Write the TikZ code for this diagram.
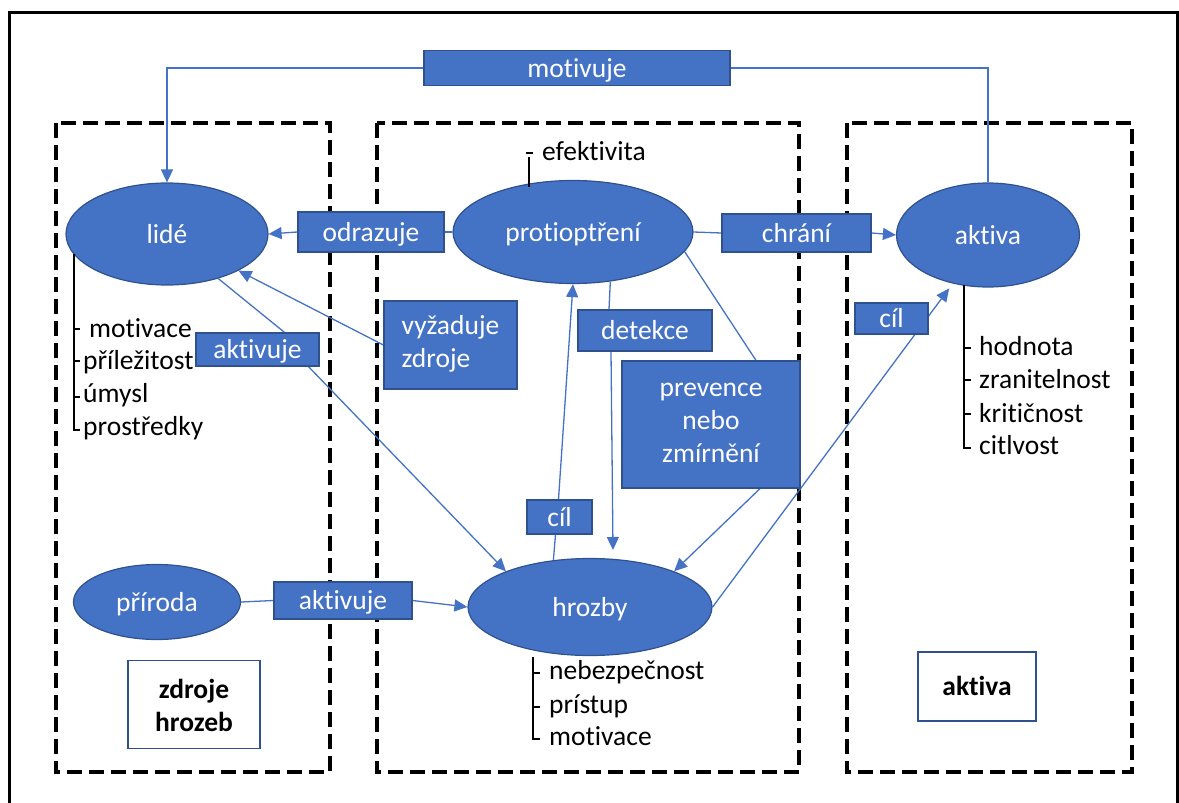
\documentclass[tikz,border=0pt]{standalone}
\usepackage{fontspec}
\setmainfont{Carlito}[Ligatures={NoCommon}]
\usetikzlibrary{arrows.meta,shapes.geometric}
\definecolor{ofblue}{HTML}{4472C4}
\definecolor{ofedge}{HTML}{2F528F}
\newcommand\lblfont{\fontsize{27.5}{33}\selectfont}
\pgfdeclarelayer{bg}
\pgfsetlayers{bg,main}
\tikzset{
  conn/.style={draw=ofblue, line width=1.3pt},
  arr/.style={conn, -{Triangle[length=13pt,width=12pt]}},
  bluebox/.style={rectangle, fill=ofblue, draw=ofedge, line width=1.2pt, text=white,
    font=\lblfont, inner sep=0pt, align=center, text height=20pt, text depth=2pt},
  blueoval/.style={ellipse, fill=ofblue, draw=ofedge, line width=1.2pt, text=white,
    font=\lblfont, inner sep=0pt, text height=20pt, text depth=2pt},
  titlebox/.style={rectangle, fill=white, draw=ofedge, line width=1.2pt, text=black,
    font=\lblfont\bfseries, inner sep=0pt, align=center, text height=20pt, text depth=2pt},
  zone/.style={draw=black, line width=4pt, dash pattern=on 15pt off 7pt},
  bracket/.style={draw=black, line width=1.3pt},
  item/.style={anchor=base west, font=\lblfont, inner sep=0pt},
}
\begin{document}
\begin{tikzpicture}[x=1pt, y=-1pt]
\useasboundingbox (0,0) rectangle (1179,803);

% outer frame (its bottom edge lies below the page)
\draw[line width=3pt] (9,810) -- (9,12) -- (1177,12) -- (1177,810);

% ellipses
\node[blueoval, minimum width=202pt, minimum height=102pt] (lide)    at (167,234) {lidé};
\node[blueoval, minimum width=240pt, minimum height=103pt] (protio)  at (573,232) {protioptření};
\node[blueoval, minimum width=183pt, minimum height=104pt] (aktiva)  at (988,235) {aktiva};
\node[blueoval, minimum width=167pt, minimum height=75pt]  (priroda) at (157,602) {příroda};
\node[blueoval, minimum width=244pt, minimum height=97pt]  (hrozby)  at (590,607) {hrozby};

% relation labels (multi-line ones: text height spans all lines)
\node[bluebox, minimum width=306pt, minimum height=35pt] (motivuje) at (577,68) {motivuje};
\node[bluebox, minimum width=146pt, minimum height=40pt] (odrazuje) at (371,232) {odrazuje};
\node[bluebox, minimum width=149pt, minimum height=38pt] (chrani)   at (796.5,233) {chrání};
\node[bluebox, minimum width=133pt, minimum height=88pt, align=left, text height=46pt] (vyzaduje) at (450.5,345) {vyžaduje\\zdroje};
\node[bluebox, minimum width=123pt, minimum height=33pt] (aktivA)   at (257.5,349.5) {aktivuje};
\node[bluebox, minimum width=134pt, minimum height=41pt] (detekce)  at (645,330.5) {detekce};
\node[bluebox, minimum width=178pt, minimum height=127pt, text height=77pt] (prevence) at (711,424.5) {prevence\\nebo\\zmírnění};
\node[bluebox, minimum width=65pt, minimum height=34pt]  (cilM)     at (559.5,517) {cíl};
\node[bluebox, minimum width=73pt, minimum height=31pt]  (cilR)     at (891.5,318.5) {cíl};
\node[bluebox, minimum width=138pt, minimum height=37pt] (aktivB)   at (343,600.5) {aktivuje};

% zone titles
\node[titlebox, minimum width=132pt, minimum height=88pt, text height=55pt] (tzdroje) at (194,704.5) {zdroje\\hrozeb};
\node[titlebox, minimum width=118pt, minimum height=69pt] (taktiva) at (977,686.5) {aktiva};

% attribute lists
\node[item] (m1) at (89,337) {motivace};
\node[item] (m2) at (83,369) {příležitost};
\node[item] (m3) at (83,402) {úmysl};
\node[item] (m4) at (83,435) {prostředky};
\draw[bracket] (74,254) -- (74,430) -- (80,430);
\draw[bracket] (74,329) -- (80,329) (74,361) -- (80,361) (74,397) -- (80,397);

\node[item] (e1) at (542,160) {efektivita};
\draw[bracket] (526,153) -- (533,153) (529,157) -- (529,187);

\node[item] (a1) at (979,355) {hodnota};
\node[item] (a2) at (979,388) {zranitelnost};
\node[item] (a3) at (979,422) {kritičnost};
\node[item] (a4) at (979,454) {citlvost};
\draw[bracket] (964,285) -- (964,448) -- (971,448);
\draw[bracket] (964,348) -- (971,348) (964,380) -- (971,380) (964,414) -- (971,414);

\node[item] (h1) at (549,679) {nebezpečnost};
\node[item] (h2) at (549,713) {prístup};
\node[item] (h3) at (549,745) {motivace};
\draw[bracket] (533,657) -- (533,739) -- (540,739);
\draw[bracket] (533,673) -- (540,673) (533,707) -- (540,707);

\coordinate (dtip) at (613,550);

\begin{pgfonlayer}{bg}
  % zones
  \draw[zone] (56,123) rectangle (330,772);
  \draw[zone] (377,123) rectangle (799,772);
  \draw[zone] (847,123) rectangle (1132,772);

  % connectors
  \draw[conn] (aktiva.north) |- (motivuje.east);
  \draw[arr]  (motivuje.west) -| (lide.north);

  \draw[conn] (protio.west) -- (odrazuje.east);
  \draw[arr]  (odrazuje.west) -- (lide.east);

  \draw[conn] (protio.east) -- (chrani.west);
  \draw[arr]  (chrani.east) -- (aktiva.west);

  \draw[arr]  (vyzaduje.west) -- (lide);

  \draw[conn] (lide.-41) -- ([xshift=27pt]aktivA.north);
  \draw[arr]  ([xshift=51pt]aktivA.south) -- (hrozby.157);

  \draw[conn] (hrozby.128) -- ([xshift=-4pt]cilM.south);
  \draw[arr]  ([xshift=-1pt]cilM.north) -- (protio.south);

  \draw[conn] (protio.-53.7) -- ([xshift=-36pt]detekce.north);
  \draw[arr]  ([xshift=-34pt]detekce.south) -- (dtip);

  \draw[conn] (protio.-10.7) -- ([xshift=45pt]prevence.north);
  \draw[arr]  ([xshift=49pt]prevence.south) -- (hrozby.23);

  \draw[arr, shorten >=6pt] (hrozby.east) -- (aktiva.234);

  \draw[conn] (priroda.east) -- (aktivB.west);
  \draw[arr]  (aktivB.east) -- (hrozby.west);
\end{pgfonlayer}
\end{tikzpicture}
\end{document}
